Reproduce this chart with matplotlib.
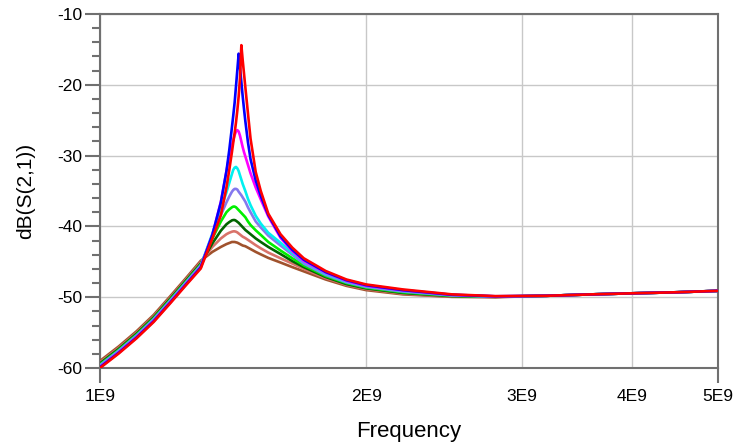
import matplotlib
matplotlib.use("Agg")
import matplotlib.pyplot as plt
from matplotlib.ticker import FixedLocator, MultipleLocator, NullLocator

plt.rcParams['font.family'] = ['Liberation Sans', 'DejaVu Sans']
plt.rcParams['axes.unicode_minus'] = False

# Frequency sweep (GHz) and dB(S(2,1)) for each trace
freq_ghz = [1.00, 1.05, 1.10, 1.15, 1.20, 1.25, 1.30, 1.34, 1.37, 1.39, 1.40, 1.41,
            1.415, 1.42, 1.425, 1.43, 1.435, 1.44, 1.445, 1.45, 1.455, 1.46,
            1.47, 1.48, 1.50, 1.52, 1.55, 1.60, 1.65, 1.70, 1.80, 1.90, 2.00,
            2.20, 2.50, 2.80, 3.20, 3.60, 4.00, 4.50, 5.00]

s21_red = [-60.0, -57.95, -55.8, -53.5, -50.9, -48.35, -45.95,
           -41.7, -38.4, -34.5, -32.1, -29.5,
           -28.1, -26.8, -25.3, -23.6, -21.6, -19.0, -14.4, -16.5, -18.4, -20.3,
           -24.0, -27.6, -32.3, -35.0, -38.2, -41.1,
           -43.0, -44.5, -46.3, -47.5, -48.2,
           -48.9, -49.6, -49.85,
           -49.8, -49.6, -49.45, -49.3, -49.1]
s21_blue = [-59.9, -57.85, -55.7, -53.4, -50.8, -48.25, -45.8,
            -41.2, -36.6, -32.2, -29.3, -26.0,
            -24.3, -22.5, -20.2, -17.9, -15.6, -17.6, -19.6, -21.6, -23.4, -25.1,
            -28.1, -30.5, -33.5, -35.7, -38.4, -41.4,
            -43.3, -44.7, -46.45, -47.6, -48.3,
            -49.0, -49.65, -49.87,
            -49.8, -49.6, -49.45, -49.3, -49.1]
s21_magenta = [-59.8, -57.75, -55.6, -53.3, -50.7, -48.15, -45.7,
               -41.2, -36.5, -32.2, -30.1, -28.6,
               -27.8, -27.1, -26.6, -26.4, -26.6, -27.2, -28.0, -28.8, -29.5, -30.1,
               -31.3, -32.5, -34.5, -36.2, -38.6, -41.6,
               -43.5, -44.9, -46.55, -47.7, -48.4,
               -49.05, -49.68, -49.88,
               -49.8, -49.6, -49.45, -49.3, -49.1]
s21_cyan = [-59.7, -57.65, -55.5, -53.2, -50.6, -48.05, -45.6,
            -41.0, -37.5, -35.2, -33.9, -32.6,
            -32.0, -31.7, -31.6, -31.8, -32.2, -32.8, -33.4, -34.0, -34.5, -35.0,
            -36.1, -37.0, -38.5, -39.6, -40.9, -42.3,
            -43.75, -45.0, -46.7, -47.8, -48.45,
            -49.1, -49.7, -49.9,
            -49.8, -49.6, -49.45, -49.3, -49.1]
s21_purple = [-59.6, -57.55, -55.4, -53.1, -50.5, -47.95, -45.5,
              -41.3, -38.4, -36.6, -35.8, -35.1,
              -34.85, -34.7, -34.7, -34.8, -35.1, -35.35, -35.6, -35.9, -36.2, -36.5,
              -37.3, -38.0, -39.3, -40.15, -41.3, -42.7,
              -44.0, -45.25, -46.85, -47.9, -48.55,
              -49.2, -49.75, -49.92,
              -49.8, -49.6, -49.45, -49.3, -49.1]
s21_green = [-59.5, -57.45, -55.3, -53.0, -50.4, -47.85, -45.4,
             -41.7, -39.3, -38.0, -37.6, -37.3,
             -37.2, -37.2, -37.3, -37.5, -37.7, -37.9, -38.1, -38.3, -38.5, -38.7,
             -39.3, -39.8, -40.55, -41.2, -42.2, -43.4,
             -44.5, -45.5, -47.0, -48.0, -48.65,
             -49.3, -49.8, -49.93,
             -49.8, -49.6, -49.45, -49.3, -49.1]
s21_darkgreen = [-59.35, -57.3, -55.15, -52.85, -50.25, -47.7, -45.25,
                 -42.4, -40.6, -39.7, -39.4, -39.15,
                 -39.1, -39.1, -39.2, -39.35, -39.5, -39.7, -39.9, -40.1, -40.3, -40.5,
                 -40.8, -41.1, -41.7, -42.2, -42.9, -43.9,
                 -44.9, -45.75, -47.15, -48.15, -48.75,
                 -49.4, -49.85, -49.95,
                 -49.8, -49.6, -49.45, -49.3, -49.1]
s21_salmon = [-59.2, -57.15, -55.0, -52.7, -50.1, -47.55, -45.05,
              -42.9, -41.7, -41.1, -40.9, -40.75,
              -40.7, -40.7, -40.75, -40.85, -41.0, -41.15, -41.3, -41.45, -41.55, -41.65,
              -41.9, -42.15, -42.65, -43.1, -43.7, -44.5,
              -45.25, -46.0, -47.3, -48.25, -48.85,
              -49.5, -49.9, -49.97,
              -49.8, -49.6, -49.45, -49.3, -49.1]
s21_brown = [-59.0, -56.95, -54.8, -52.5, -49.9, -47.35, -44.85,
             -43.6, -42.9, -42.5, -42.35, -42.2,
             -42.2, -42.2, -42.25, -42.3, -42.4, -42.5, -42.6, -42.7, -42.75, -42.8,
             -43.0, -43.2, -43.6, -43.95, -44.45, -45.1,
             -45.75, -46.35, -47.5, -48.4, -49.0,
             -49.6, -49.95, -50.0,
             -49.8, -49.6, -49.45, -49.3, -49.1]

x_ticks_hz = [1e9, 2e9, 3e9, 4e9, 5e9]
x_tick_labels = ["1E9", "2E9", "3E9", "4E9", "5E9"]

# drawing order: broadest response first, sharpest on top
traces = [
    (s21_brown, "#A0522D"),
    (s21_salmon, "#D9736A"),
    (s21_darkgreen, "#006400"),
    (s21_green, "#00F000"),
    (s21_purple, "#8478EE"),
    (s21_cyan, "#00F0F0"),
    (s21_magenta, "#FF00FF"),
    (s21_blue, "#0000FF"),
    (s21_red, "#FF0000"),
]

fig = plt.figure(figsize=(7.35, 4.45), dpi=100)
ax = fig.add_axes([100 / 735, 1 - 368 / 445, 618 / 735, 354 / 445])

freq_hz = [f * 1e9 for f in freq_ghz]
for vals, color in traces:
    ax.plot(freq_hz, vals, color=color, lw=1.9, solid_joinstyle="round", zorder=3)

ax.set_xscale("log")
ax.set_xlim(1e9, 5e9)
ax.set_ylim(-60, -10)

ax.xaxis.set_major_locator(FixedLocator(x_ticks_hz))
ax.xaxis.set_minor_locator(NullLocator())
ax.set_xticklabels(x_tick_labels)
ax.yaxis.set_major_locator(MultipleLocator(10))
ax.yaxis.set_minor_locator(MultipleLocator(2))

ax.grid(True, which="major", color="#c8c8c8", lw=1.0, zorder=0)

axis_grey = "#707070"
for sp in ax.spines.values():
    sp.set_color(axis_grey)
    sp.set_linewidth(1.5)

ax.tick_params(axis="y", which="major", direction="out", length=11, width=1.5,
               color=axis_grey, labelsize=12.5, pad=2)
ax.tick_params(axis="y", which="minor", direction="out", length=5.5, width=1.5,
               color=axis_grey)
ax.tick_params(axis="x", which="major", direction="out", length=11, width=1.5,
               color=axis_grey, labelsize=12.5, pad=4)
for t in ax.xaxis.get_major_ticks()[1:-1]:
    t.tick1line.set_visible(False)

ax.set_xlabel("Frequency", fontsize=16)
ax.xaxis.set_label_coords(0.5, -0.15)
ax.set_ylabel("dB(S(2,1))", fontsize=15)
ax.yaxis.set_label_coords(-0.105, 0.5)

fig.savefig("out.png", dpi=100)
